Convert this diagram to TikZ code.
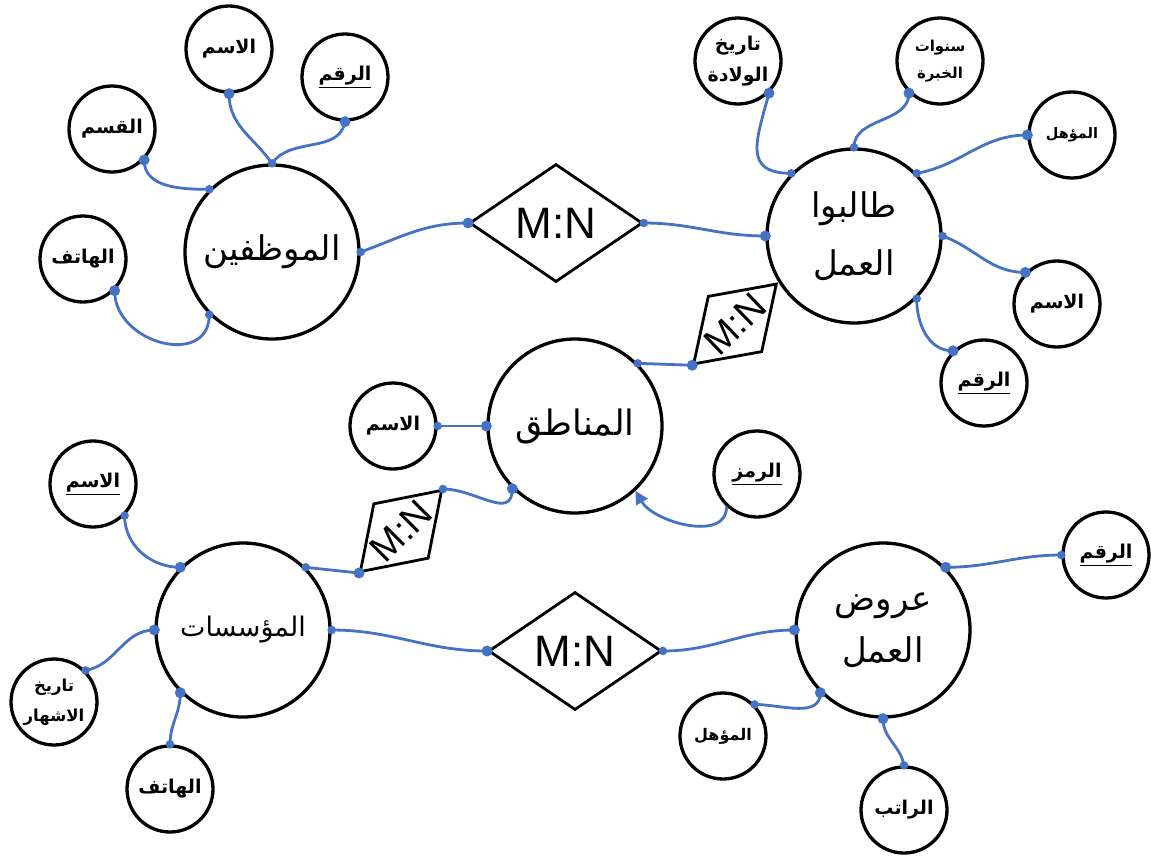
\documentclass[tikz,border=0pt]{standalone}
\usepackage{fontspec}
\usetikzlibrary{shapes.geometric,arrows.meta}
\TeXXeTstate=1
\newfontfamily\arf[Script=Arabic]{DejaVu Sans}
\newfontfamily\mnf{Liberation Sans}
\newcommand{\RL}[1]{\beginR #1\endR}
\definecolor{conblue}{HTML}{4472C4}
\begin{document}
\begin{tikzpicture}[x=1pt,y=-1pt,
  big/.style={circle,draw,line width=3.3pt,minimum size=174pt,inner sep=0pt,align=center,font=\arf\fontsize{34}{58}\selectfont},
  small/.style={circle,draw,line width=3.3pt,minimum size=86pt,inner sep=0pt,align=center,font=\arf\bfseries\fontsize{19}{28}\selectfont},
  rel/.style={diamond,draw,line width=2.8pt,inner sep=0pt,aspect=1.47,minimum width=173pt,minimum height=118pt,font=\mnf\fontsize{44}{46}\selectfont},
  relr/.style={diamond,draw,line width=2.8pt,inner sep=0pt,aspect=1.49,minimum width=116pt,minimum height=78pt,font=\mnf\fontsize{38}{40}\selectfont},
  con/.style={conblue,line width=2.8pt},
  bdot/.style={fill=conblue},
]
\useasboundingbox (0,0) rectangle (1151,857);
% entities
\node[big] (E) at (272,252) {\RL{الموظفين}};
\node[big] (J) at (854,236) {\RL{طالبوا}\\\RL{العمل}};
\node[big,font=\arf\fontsize{35}{50}\selectfont] (R) at (575,426) {\RL{المناطق}};
\node[big,font=\arf\fontsize{27}{40}\selectfont] (I) at (243,630) {\RL{المؤسسات}};
\node[big,font=\arf\fontsize{34}{52}\selectfont] (O) at (883,630) {\RL{عروض}\\\RL{العمل}};
% relations
\node[rel] (D1) at (556,223) {M:N};
\node[rel] (D4) at (575,651) {M:N};
\node[relr,rotate=44] (D2) at (735,324) {M:N};
\node[relr,rotate=45] (D3) at (401,531) {M:N};
% attributes
\node[small] (A1) at (229,49) {\RL{الاسم}};
\node[small] (A2) at (345,77) {\underline{\RL{الرقم}}};
\node[small] (A3) at (112,129) {\RL{القسم}};
\node[small] (A4) at (83,259) {\RL{الهاتف}};
\node[small,font=\arf\bfseries\fontsize{19}{31}\selectfont] (TW) at (738,61) {\RL{تاريخ}\\\RL{الولادة}};
\node[small,font=\arf\bfseries\fontsize{15}{27}\selectfont] (SK) at (940,61) {\RL{سنوات}\\\RL{الخبرة}};
\node[small,font=\arf\bfseries\fontsize{14.5}{20}\selectfont] (JM) at (1072,135) {\RL{المؤهل}};
\node[small] (JA) at (1057,304) {\RL{الاسم}};
\node[small] (JR) at (984,383) {\underline{\RL{الرقم}}};
\node[small] (RA) at (393,426) {\RL{الاسم}};
\node[small] (RZ) at (757,474) {\underline{\RL{الرمز}}};
\node[small] (IA) at (93,484) {\underline{\RL{الاسم}}};
\node[small,font=\arf\bfseries\fontsize{16.5}{30}\selectfont] (IT) at (54,702) {\RL{تاريخ}\\\RL{الاشهار}};
\node[small] (IH) at (170,789) {\RL{الهاتف}};
\node[small] (OR) at (1106,555) {\underline{\RL{الرقم}}};
\node[small,font=\arf\bfseries\fontsize{16}{20}\selectfont] (OM) at (723,736) {\RL{المؤهل}};
\node[small] (OS) at (904,810) {\RL{الراتب}};
% connectors
\draw[con] (A1.south) to[out=-90,in=125] (E.north);
\draw[con] (A2.south) to[out=-100,in=55] (E.north);
\draw[con] (A3.-44) to[out=-90,in=180] (E.135);
\draw[con] (A4.-45) to[out=-90,in=-90,looseness=1.4] (E.-135);
\draw[con] (E.east) to[out=20,in=180] (D1.west);
\draw[con] (D1.east) to[out=0,in=180] (J.west);
\draw[con] (TW.-46) to[out=-105,in=180,looseness=1.5] (J.135);
\draw[con] (SK.-134) to[out=-90,in=90] (J.north);
\draw[con] (JM.west) to[out=180,in=10] (J.45);
\draw[con] (J.east) to[out=-20,in=180] (JA.135);
\draw[con] (J.-45) to[out=-90,in=180] (JR.134);
\draw[con] (R.45) -- (D2.west);
\draw[con] (RA.east) -- (R.west);
\draw[con] (D3.east) to[out=0,in=-90,looseness=1.2] (R.-135);
\draw[con,-{Triangle[length=13pt,width=13pt]}] (RZ.-133) to[out=-90,in=-60] (R.-47);
\draw[con] (IA.-45) to[out=-90,in=180] (I.135);
\draw[con] (IT.45) to[out=10,in=180] (I.west);
\draw[con] (I.-135) to[out=-90,in=90] (IH.north);
\draw[con] (I.45) -- (D3.west);
\draw[con] (I.east) to[out=0,in=180] (D4.west);
\draw[con] (D4.east) to[out=0,in=180] (O.west);
\draw[con] (O.45) to[out=0,in=180] (OR.west);
\draw[con] (O.-135) to[out=-90,in=0] (OM.45);
\draw[con] (O.south) to[out=-90,in=100] (OS.north);
% dots
\foreach \p in {A1.south,A2.south,A3.-44,A4.-45,D1.west,J.west,TW.-46,SK.-134,JM.west,JA.135,JR.134,D2.west,R.west,R.-135,I.135,I.west,I.-135,D3.west,D4.west,O.west,O.45,O.-135,O.south}
  \fill[bdot] (\p) circle (5.5pt);
\foreach \p in {E.north,E.135,E.-135,E.east,D1.east,J.135,J.north,J.45,J.east,J.-45,R.45,RA.east,D3.east,IA.-45,IT.45,IH.north,I.45,I.east,D4.east,OR.west,OM.45,OS.north}
  \fill[bdot] (\p) circle (4.3pt);
\end{tikzpicture}
\end{document}
